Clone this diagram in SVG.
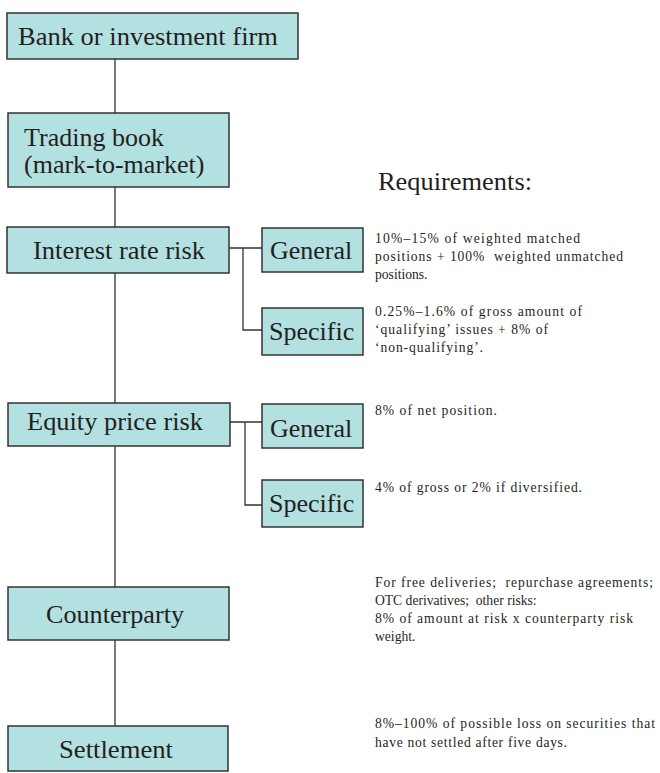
<svg xmlns="http://www.w3.org/2000/svg" width="660" height="773" viewBox="0 0 660 773" font-family="'Liberation Serif', 'Times New Roman', Times, serif">
<style>
.box{fill:#b3e0e0;stroke:#333;stroke-width:1.5}
.lbl{font-family:'Liberation Serif','Times New Roman',Times,serif;font-size:26px;fill:#231f20}
.note{font-family:'Liberation Serif','Times New Roman',Times,serif;font-size:13.6px;fill:#231f20;white-space:pre}
.conn{fill:none;stroke:#333;stroke-width:1.3}
</style>
<rect width="660" height="773" fill="#fff"/>
<g id="connectors" class="conn">
<path d="M115 59V113M115 187V227M115 273V403M115 446V587M115 640V726"/>
<path d="M229 248H262M243 248V330H262"/>
<path d="M230 422H262M245 422V505H262"/>
</g>
<g id="bank"><rect class="box" x="7" y="13" width="291" height="46"/><text class="lbl" x="18" y="45" textLength="260" lengthAdjust="spacingAndGlyphs">Bank or investment firm</text></g>
<g id="trading"><rect class="box" x="8" y="113" width="221" height="74"/><text class="lbl" x="24" y="146">Trading book</text><text class="lbl" x="24" y="173">(mark-to-market)</text></g>
<g id="interest"><rect class="box" x="7" y="227" width="222" height="46"/><text class="lbl" x="33" y="259" textLength="172" lengthAdjust="spacingAndGlyphs">Interest rate risk</text></g>
<g id="ir-general"><rect class="box" x="262" y="228" width="101" height="44"/><text class="lbl" x="270" y="259">General</text></g>
<g id="ir-specific"><rect class="box" x="262" y="308" width="101" height="47"/><text class="lbl" x="269" y="340">Specific</text></g>
<g id="equity"><rect class="box" x="8" y="403" width="222" height="43"/><text class="lbl" x="27" y="430" textLength="176" lengthAdjust="spacingAndGlyphs">Equity price risk</text></g>
<g id="eq-general"><rect class="box" x="262" y="404" width="101" height="44"/><text class="lbl" x="270" y="437">General</text></g>
<g id="eq-specific"><rect class="box" x="262" y="480" width="101" height="47"/><text class="lbl" x="269" y="512">Specific</text></g>
<g id="counterparty"><rect class="box" x="8" y="587" width="221" height="53"/><text class="lbl" x="46" y="623" textLength="138" lengthAdjust="spacingAndGlyphs">Counterparty</text></g>
<g id="settlement"><rect class="box" x="8" y="726" width="220" height="45"/><text class="lbl" x="59" y="758" textLength="114" lengthAdjust="spacingAndGlyphs">Settlement</text></g>
<g id="requirements">
<text class="lbl" x="378" y="190" textLength="154" lengthAdjust="spacingAndGlyphs">Requirements:</text>
<text class="note" x="375" y="243" textLength="205" lengthAdjust="spacing">10%–15% of weighted matched</text>
<text class="note" x="375" y="261" textLength="248" lengthAdjust="spacing">positions + 100%  weighted unmatched</text>
<text class="note" x="375" y="279">positions.</text>
<text class="note" x="375" y="316" textLength="207" lengthAdjust="spacing">0.25%–1.6% of gross amount of</text>
<text class="note" x="375" y="334" textLength="173" lengthAdjust="spacing">‘qualifying’ issues + 8% of</text>
<text class="note" x="375" y="352" textLength="108" lengthAdjust="spacing">‘non-qualifying’.</text>
<text class="note" x="375" y="415" textLength="122" lengthAdjust="spacing">8% of net position.</text>
<text class="note" x="375" y="492" textLength="207" lengthAdjust="spacing">4% of gross or 2% if diversified.</text>
<text class="note" x="375" y="587" textLength="278" lengthAdjust="spacing">For free deliveries;  repurchase agreements;</text>
<text class="note" x="375" y="605">OTC derivatives;  other risks:</text>
<text class="note" x="375" y="623" textLength="258" lengthAdjust="spacing">8% of amount at risk x counterparty risk</text>
<text class="note" x="375" y="641">weight.</text>
<text class="note" x="375" y="728" textLength="280" lengthAdjust="spacing">8%–100% of possible loss on securities that</text>
<text class="note" x="375" y="747" textLength="192" lengthAdjust="spacing">have not settled after five days.</text>
</g>
</svg>
